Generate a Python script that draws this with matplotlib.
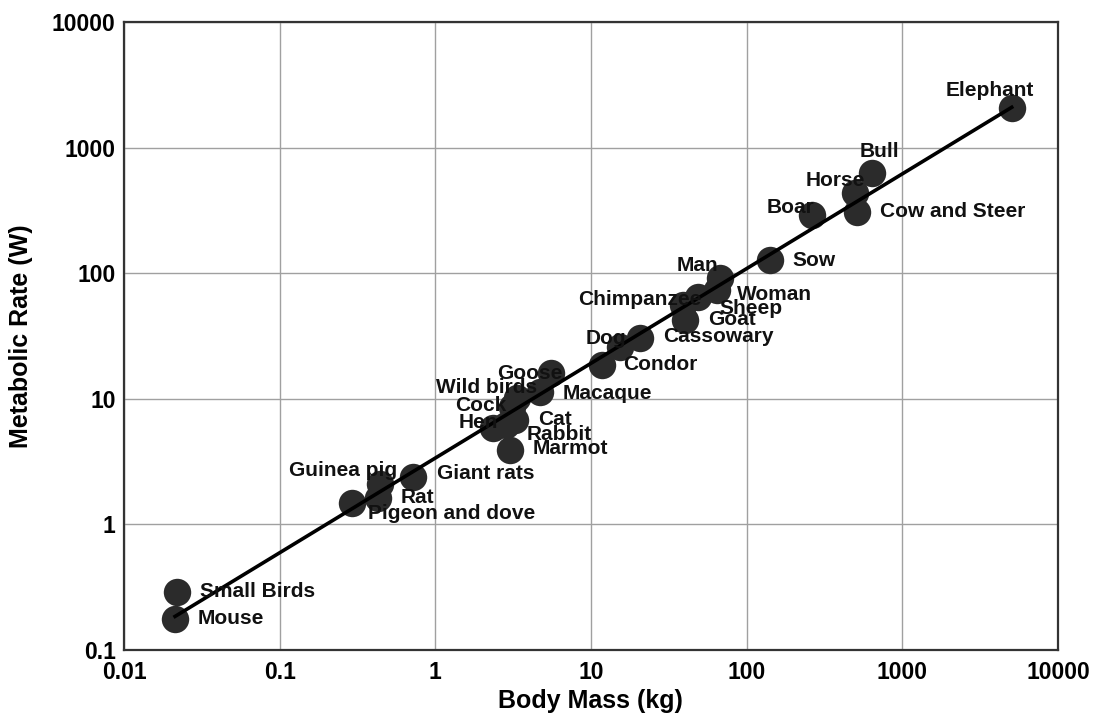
import numpy as np
import matplotlib.pyplot as plt

animals = ['Small Birds', 'Mouse', 'Pigeon and dove', 'Rat', 'Guinea pig',
           'Giant rats', 'Hen', 'Cock', 'Wild birds', 'Cat', 'Rabbit', 'Marmot',
           'Goose', 'Macaque', 'Condor', 'Dog', 'Cassowary', 'Chimpanzee',
           'Goat', 'Sheep', 'Woman', 'Man', 'Sow', 'Boar', 'Horse',
           'Cow and Steer', 'Bull', 'Elephant']
mass = [0.0219, 0.0213, 0.291, 0.428, 0.44, 0.718, 2.34, 3.1, 3.34, 3.27,
        2.84, 3.0, 5.52, 4.7, 11.7, 15.3, 20.6, 38.9, 40, 48.6, 64.4, 67.3,
        141, 262, 495, 510, 637, 5050]
power = [0.29, 0.1765, 1.48, 1.62, 2.1, 2.38, 5.86, 8.6, 10.1, 6.78, 6.2,
         3.9, 16.0, 11.3, 18.6, 25.8, 30.5, 55.8, 42.4, 64.6, 73.5, 91.6,
         127, 290, 435, 307, 628, 2066]

# label placement: (dx px, dy px downwards, horizontal alignment)
place = {
    'Small Birds': (23, 0, 'left'), 'Mouse': (23, 0, 'left'),
    'Pigeon and dove': (16, 11, 'left'), 'Rat': (23, -1, 'left'),
    'Guinea pig': (17, -13, 'right'), 'Giant rats': (24, -4, 'left'),
    'Hen': (5, -5, 'right'), 'Cock': (-5, -2, 'right'),
    'Wild birds': (20, -11, 'right'), 'Cat': (23, 0, 'left'),
    'Rabbit': (21, 10, 'left'), 'Marmot': (23, -2, 'left'),
    'Goose': (12, 0, 'right'), 'Macaque': (23, 1, 'left'),
    'Condor': (22, 0, 'left'), 'Dog': (7, -9, 'right'),
    'Cassowary': (23, -1, 'left'), 'Chimpanzee': (19, -6, 'right'),
    'Goat': (23, 0, 'left'), 'Sheep': (22, 11, 'left'),
    'Woman': (20, 5, 'left'), 'Man': (-22, -12, 'center'),
    'Sow': (23, 0, 'left'), 'Boar': (3, -8, 'right'),
    'Horse': (10, -13, 'right'), 'Cow and Steer': (23, -1, 'left'),
    'Bull': (8, -21, 'center'), 'Elephant': (-22, -18, 'center'),
}

plt.rcParams['font.family'] = ['Liberation Sans', 'DejaVu Sans']
plt.rcParams['font.weight'] = 'bold'

fig = plt.figure(figsize=(10.94, 7.19), dpi=100)
ax = fig.add_axes([0.1133, 0.096, 0.8537, 0.8734])

ax.scatter(mass, power, s=390, color='#2b2b2b', zorder=3, linewidths=0)

# power-law fit in log space
lm, lp = np.log10(mass), np.log10(power)
k, b = np.polyfit(lm, lp, 1)
xs = np.array([min(mass), max(mass)])
ax.plot(xs, 10 ** (b + k * np.log10(xs)), color='black', lw=2.6, zorder=4)

for name, m, p in zip(animals, mass, power):
    dx, dy, ha = place[name]
    ax.annotate(name, (m, p), xytext=(dx * 0.72, -dy * 0.72),
                textcoords='offset points', ha=ha, va='center',
                fontsize=15, fontweight='bold', color='#111111', zorder=5)

ax.set_xscale('log')
ax.set_yscale('log')
ax.set_xlim(0.01, 10000)
ax.set_ylim(0.1, 10000)
xt = [0.01, 0.1, 1, 10, 100, 1000, 10000]
yt = [0.1, 1, 10, 100, 1000, 10000]
ax.set_xticks(xt)
ax.set_xticklabels(['0.01', '0.1', '1', '10', '100', '1000', '10000'])
ax.set_yticks(yt)
ax.set_yticklabels(['0.1', '1', '10', '100', '1000', '10000'])
ax.minorticks_off()
ax.tick_params(length=0, labelsize=16.5)
ax.tick_params(axis='x', pad=8)
ax.tick_params(axis='y', pad=6)
for lab in ax.get_xticklabels() + ax.get_yticklabels():
    lab.set_fontweight('bold')
ax.grid(True, color='#a0a0a0', lw=1)
ax.set_axisbelow(True)
for s in ax.spines.values():
    s.set_linewidth(1.6)
    s.set_color('#333333')

ax.set_xlabel('Body Mass (kg)', fontsize=18, fontweight='bold')
ax.set_ylabel('Metabolic Rate (W)', fontsize=18, fontweight='bold')
ax.xaxis.set_label_coords(0.5, -0.062)
ax.yaxis.set_label_coords(-0.097, 0.5)

fig.savefig('out.png', dpi=100)
